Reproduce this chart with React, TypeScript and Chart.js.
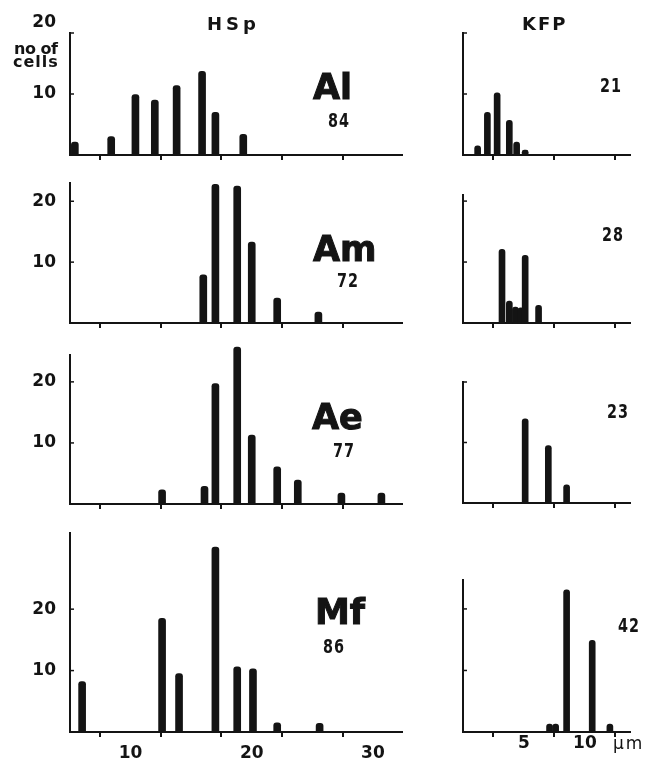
import React, { useEffect, useRef } from 'react';
import { Chart, registerables } from 'chart.js';

Chart.register(...registerables);

// ---- data ----
const hspTicks = [10, 15, 20, 25, 30];
const hspTickLabels = ['10', '', '20', '', '30'];
const kfpTicks = [5, 10];
const kfpTickLabels = ['5', '10'];
const yTicks = [10, 20];

const alHspSize = [5.4, 8.4, 10.4, 12.0, 13.8, 15.9, 17.0, 19.3];
const alHspCount = [2.1, 3.0, 9.9, 9.0, 11.4, 13.7, 7.0, 3.4];
const alKfpSize = [1.2, 2.0, 2.8, 3.8, 4.4, 5.1];
const alKfpCount = [1.5, 7.0, 10.2, 5.7, 2.1, 0.8];

const amHspSize = [16.0, 17.0, 18.8, 20.0, 22.1, 25.5];
const amHspCount = [7.9, 22.8, 22.5, 13.3, 4.1, 1.8];
const amKfpSize = [3.2, 3.8, 4.3, 4.75, 5.1, 6.2];
const amKfpCount = [12.1, 3.6, 2.6, 2.5, 11.1, 2.9];

const aeHspSize = [12.6, 16.1, 17.0, 18.8, 20.0, 22.1, 23.8, 27.4, 30.7];
const aeHspCount = [2.3, 2.9, 19.7, 25.7, 11.3, 6.1, 3.9, 1.8, 1.8];
const aeKfpSize = [5.1, 7.0, 8.5];
const aeKfpCount = [13.9, 9.5, 3.0];

const mfHspSize = [6.0, 12.6, 14.0, 17.0, 18.8, 20.1, 22.1, 25.6];
const mfHspCount = [8.2, 18.5, 9.5, 30.1, 10.6, 10.3, 1.5, 1.4];
const mfKfpSize = [7.1, 7.6, 8.5, 10.6, 12.05];
const mfKfpCount = [1.3, 1.3, 23.1, 14.9, 1.3];

const speciesNames = ['Al', 'Am', 'Ae', 'Mf'];
const hspTotals = ['84', '72', '77', '86'];
const kfpTotals = ['21', '28', '23', '42'];

// ---- layout ----
const INK = '#141414';
const TICK_FONT = { family: 'DejaVu Sans', size: 17, weight: 'bold' as const };

type PanelCfg = {
  sizes: number[]; counts: number[];
  left: number; right: number; top: number; bottom: number;
  xMin: number; xMax: number; yMax: number;
  ticks: number[]; tickLabels: string[];
  showX: boolean; showY: boolean; liftTop?: boolean;
  xPad: number; kind: 'hsp' | 'kfp';
};

const panels: PanelCfg[] = [
  { sizes: alHspSize, counts: alHspCount, left: 70, right: 402, top: 33, bottom: 155, xMin: 5, xMax: 32.4, yMax: 20, ticks: hspTicks, tickLabels: hspTickLabels, showX: false, showY: true, liftTop: true, xPad: 6, kind: 'hsp' },
  { sizes: alKfpSize, counts: alKfpCount, left: 463, right: 630, top: 33, bottom: 155, xMin: 0, xMax: 13.7, yMax: 20, ticks: kfpTicks, tickLabels: kfpTickLabels, showX: false, showY: false, xPad: -4, kind: 'kfp' },
  { sizes: amHspSize, counts: amHspCount, left: 70, right: 402, top: 183, bottom: 323, xMin: 5, xMax: 32.4, yMax: 23, ticks: hspTicks, tickLabels: hspTickLabels, showX: false, showY: true, xPad: 6, kind: 'hsp' },
  { sizes: amKfpSize, counts: amKfpCount, left: 463, right: 630, top: 195, bottom: 323, xMin: 0, xMax: 13.7, yMax: 21, ticks: kfpTicks, tickLabels: kfpTickLabels, showX: false, showY: false, xPad: -4, kind: 'kfp' },
  { sizes: aeHspSize, counts: aeHspCount, left: 70, right: 402, top: 355, bottom: 504, xMin: 5, xMax: 32.4, yMax: 24.4, ticks: hspTicks, tickLabels: hspTickLabels, showX: false, showY: true, xPad: 6, kind: 'hsp' },
  { sizes: aeKfpSize, counts: aeKfpCount, left: 463, right: 630, top: 382, bottom: 503, xMin: 0, xMax: 13.7, yMax: 20, ticks: kfpTicks, tickLabels: kfpTickLabels, showX: false, showY: false, xPad: -4, kind: 'kfp' },
  { sizes: mfHspSize, counts: mfHspCount, left: 70, right: 402, top: 533, bottom: 732, xMin: 5, xMax: 32.4, yMax: 32.4, ticks: hspTicks, tickLabels: hspTickLabels, showX: true, showY: true, xPad: 6, kind: 'hsp' },
  { sizes: mfKfpSize, counts: mfKfpCount, left: 463, right: 630, top: 580, bottom: 732, xMin: 0, xMax: 13.7, yMax: 24.7, ticks: kfpTicks, tickLabels: kfpTickLabels, showX: true, showY: false, xPad: -4, kind: 'kfp' },
];

const innerTicks = {
  id: 'innerTicks',
  afterDraw(chart: any) {
    const ys = chart.scales.y;
    const ctx = chart.ctx;
    const left = chart.chartArea.left;
    ctx.save();
    ctx.strokeStyle = INK;
    ctx.lineWidth = 1.5;
    ys.ticks.forEach((t: any) => {
      const py = ys.getPixelForValue(t.value);
      ctx.beginPath();
      ctx.moveTo(left, py);
      ctx.lineTo(left + 4, py);
      ctx.stroke();
    });
    ctx.restore();
  },
};

function Panel({ p }: { p: PanelCfg }) {
  const ref = useRef<HTMLCanvasElement>(null);
  const yW = p.kind === 'hsp' ? 60 : 10;
  const padT = 30;
  const padR = 10;
  const xH = p.showX ? 27 : 10;
  const cLeft = p.left - yW;
  const cTop = p.top - padT;
  const w = p.right - p.left + yW + padR;
  const h = p.bottom - p.top + padT + xH;

  useEffect(() => {
    const chart = new Chart(ref.current as HTMLCanvasElement, {
      type: 'bar',
      data: {
        datasets: [
          {
            data: p.sizes.map((x, i) => ({ x, y: p.counts[i] })),
            backgroundColor: INK,
            barThickness: p.kind === 'hsp' ? 7 : 6,
            borderRadius: 3,
            borderSkipped: 'start',
            clip: false,
          } as any,
        ],
      },
      options: {
        responsive: false,
        animation: false,
        layout: { padding: { top: padT, right: padR, left: 0, bottom: 0 } },
        plugins: { legend: { display: false }, tooltip: { enabled: false } },
        scales: {
          x: {
            type: 'linear',
            min: p.xMin,
            max: p.xMax,
            offset: false,
            grid: { display: true, drawOnChartArea: false, drawTicks: true, tickLength: 5, color: INK, lineWidth: 2 },
            border: { display: true, color: INK, width: 2 },
            ticks: {
              display: p.showX,
              padding: p.xPad,
              font: TICK_FONT,
              color: INK,
              maxRotation: 0,
              autoSkip: false,
              callback: (_v: any, i: number) => p.tickLabels[i],
            },
            afterBuildTicks: (s: any) => { s.ticks = p.ticks.map((v) => ({ value: v })); },
            afterFit: (s: any) => { s.height = xH; s.paddingLeft = 0; s.paddingRight = 0; },
          },
          y: {
            type: 'linear',
            min: 0,
            max: p.yMax,
            grid: { display: false },
            border: { display: true, color: INK, width: 2 },
            ticks: {
              display: p.showY,
              padding: 6,
              font: TICK_FONT,
              color: INK,
              callback: (v: any) => (p.liftTop && v === 20 ? ['20', ''] : String(v)),
            },
            afterBuildTicks: (s: any) => { s.ticks = yTicks.filter((v) => v <= p.yMax).map((v) => ({ value: v })); },
            afterFit: (s: any) => { s.width = yW; s.paddingTop = 0; s.paddingBottom = 0; },
          },
        },
      } as any,
      plugins: [innerTicks],
    });
    return () => chart.destroy();
  }, []);

  return (
    <canvas
      ref={ref}
      width={w}
      height={h}
      style={{ position: 'absolute', left: cLeft, top: cTop, width: w, height: h }}
    />
  );
}

// text placed by baseline: top = baseline - 0.846*size
function Txt({ x, base, size, children, style }: any) {
  return (
    <div
      style={{
        position: 'absolute',
        left: x,
        top: base - 0.846 * size,
        fontSize: size,
        lineHeight: size + 'px',
        whiteSpace: 'nowrap',
        color: INK,
        ...style,
      }}
    >
      {children}
    </div>
  );
}

const bigName = { fontFamily: 'DejaVu Sans', fontWeight: 'bold', WebkitTextStroke: '1px #141414' };
const narrowNum = { fontFamily: 'DejaVu Sans', fontWeight: 'bold', transform: 'scaleX(0.72)', transformOrigin: 'left', letterSpacing: 1.5 };
const titleStyle = { fontFamily: 'DejaVu Sans', fontWeight: 'bold' };

const nameBase = [100, 262, 430, 625];
const nameLeft = [313, 313, 312, 315];
const hspNumBase = [127, 287, 457, 653];
const hspNumLeft = [328, 337, 333, 323];
const kfpNumBase = [92, 241, 418, 632];
const kfpNumLeft = [600, 602, 607, 618];

export default function App() {
  return (
    <div style={{ position: 'absolute', left: 0, top: 0, width: 652, height: 759, overflow: 'hidden', background: '#fff' }}>
      {panels.map((p, i) => (
        <Panel key={i} p={p} />
      ))}
      <Txt x={207} base={30} size={18} style={{ ...titleStyle, letterSpacing: 4 }}>HSp</Txt>
      <Txt x={522} base={30} size={18} style={{ ...titleStyle, letterSpacing: 2 }}>KFP</Txt>
      <Txt x={14} base={55} size={16} style={{ fontFamily: 'DejaVu Sans', fontWeight: 'bold', letterSpacing: -0.5 }}>no of</Txt>
      <Txt x={13} base={68} size={16} style={{ fontFamily: 'DejaVu Sans', fontWeight: 'bold', letterSpacing: 1 }}>cells</Txt>
      {speciesNames.map((n, i) => (
        <Txt key={'n' + i} x={nameLeft[i]} base={nameBase[i]} size={35} style={bigName}>{n}</Txt>
      ))}
      {hspTotals.map((n, i) => (
        <Txt key={'h' + i} x={hspNumLeft[i]} base={hspNumBase[i]} size={20} style={narrowNum}>{n}</Txt>
      ))}
      {kfpTotals.map((n, i) => (
        <Txt key={'k' + i} x={kfpNumLeft[i]} base={kfpNumBase[i]} size={20} style={narrowNum}>{n}</Txt>
      ))}
      <Txt x={613} base={749} size={17} style={{ fontFamily: 'DejaVu Sans', letterSpacing: 2 }}>µm</Txt>
    </div>
  );
}
